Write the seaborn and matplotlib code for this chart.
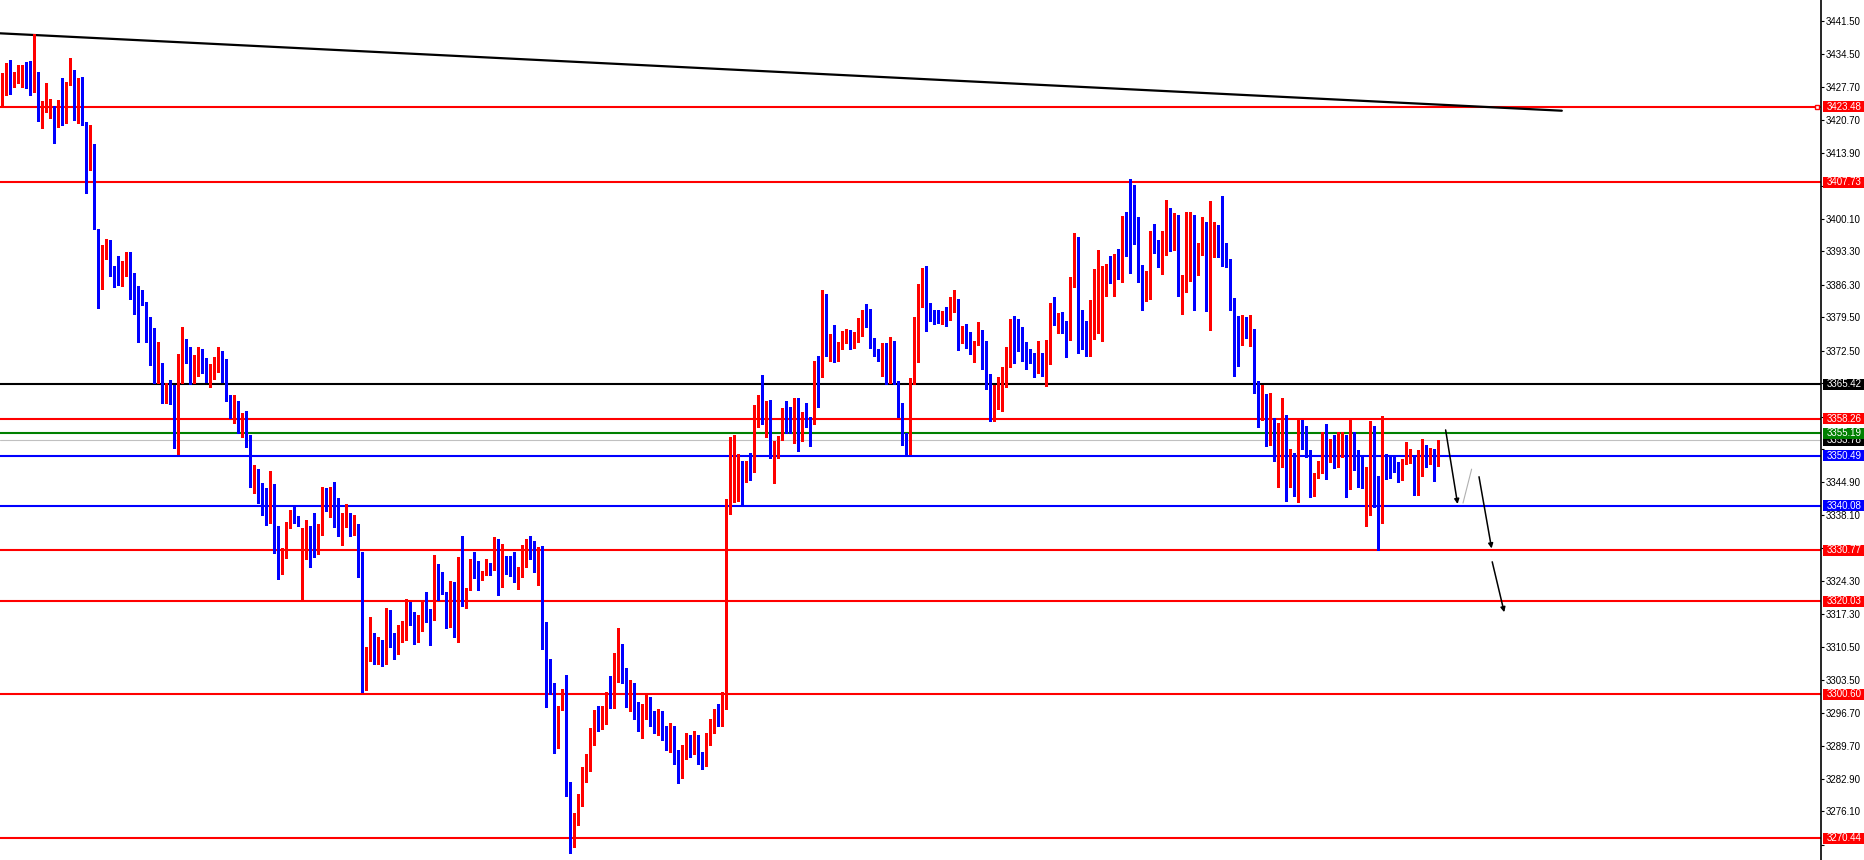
import numpy as np
import pandas as pd
import matplotlib
matplotlib.use("Agg")
import matplotlib.pyplot as plt
from matplotlib.patches import Rectangle
import seaborn as sns

# OHLC, one value per candle (oldest first)
open_ = [
    3426.2, 3426.2, 3432.1, 3429.0, 3429.5, 3431.2, 3432.5, 3427.9, 3427.0, 3428.6,
    3420.9, 3422.7, 3422.7, 3423.2, 3420.1, 3424.9, 3420.4, 3428.2, 3431.0, 3422.5,
    3428.1, 3419.9, 3413.1, 3413.4, 3397.9, 3387.1, 3393.0, 3393.6, 3390.1, 3389.2,
    3386.4, 3389.9, 3391.3, 3387.5, 3383.6, 3383.4, 3382.3, 3379.1, 3375.8, 3367.2,
    3369.3, 3363.2, 3364.1, 3361.8, 3352.3, 3366.4, 3373.5, 3372.3, 3366.7, 3369.7,
    3371.8, 3370.2, 3367.8, 3368.6, 3369.1, 3372.1, 3370.7, 3362.9, 3358.6, 3360.8,
    3358.3, 3359.0, 3353.8, 3345.1, 3345.6, 3342.8, 3340.9, 3340.0, 3343.5, 3331.3,
    3327.5, 3329.4, 3335.5, 3338.5, 3337.4, 3321.0, 3329.0, 3333.3, 3333.0, 3331.6,
    3335.0, 3342.9, 3339.3, 3343.2, 3339.8, 3334.6, 3335.7, 3337.5, 3335.5, 3336.2,
    3328.0, 3302.5, 3309.5, 3312.0, 3308.5, 3311.0, 3308.0, 3316.7, 3312.0, 3310.0,
    3313.5, 3314.5, 3318.7, 3317.6, 3313.0, 3316.1, 3320.0, 3317.0, 3316.3, 3325.9,
    3324.0, 3321.7, 3314.7, 3323.0, 3316.8, 3328.7, 3320.0, 3322.6, 3328.0, 3325.5,
    3324.7, 3326.2, 3327.6, 3327.1, 3329.7, 3323.1, 3329.0, 3328.0, 3326.4, 3324.4,
    3326.5, 3327.3, 3331.8, 3330.6, 3328.1, 3330.6, 3312.8, 3302.7, 3302.0, 3289.8,
    3297.7, 3300.9, 3279.9, 3268.9, 3275.1, 3278.3, 3284.7, 3286.0, 3293.5, 3296.8,
    3294.4, 3297.7, 3299.2, 3298.7, 3304.4, 3309.4, 3304.5, 3299.5, 3302.0, 3297.0,
    3294.5, 3297.0, 3299.0, 3295.5, 3293.5, 3296.0, 3292.0, 3290.0, 3293.0, 3287.5,
    3284.0, 3288.5, 3291.0, 3289.0, 3291.5, 3287.0, 3286.5, 3291.5, 3294.0, 3296.0,
    3295.0, 3299.0, 3340.7, 3341.2, 3345.6, 3348.4, 3347.0, 3348.2, 3347.2, 3356.7,
    3365.2, 3358.7, 3361.8, 3351.4, 3352.1, 3354.0, 3360.1, 3358.6, 3357.1, 3362.4,
    3355.2, 3358.1, 3357.8, 3357.4, 3370.2, 3367.4, 3383.1, 3373.5, 3374.0, 3370.5,
    3373.7, 3375.4, 3375.8, 3373.9, 3374.4, 3377.0, 3379.5, 3378.7, 3373.5, 3371.8,
    3370.7, 3373.9, 3366.0, 3373.5, 3366.0, 3359.3, 3354.0, 3352.0, 3366.0, 3375.0,
    3385.0, 3389.4, 3381.8, 3379.9, 3379.7, 3378.4, 3380.8, 3379.3, 3383.0, 3383.3,
    3375.6, 3376.0, 3374.3, 3372.1, 3374.0, 3374.9, 3373.2, 3365.0, 3358.3, 3363.2,
    3364.8, 3367.0, 3371.2, 3378.9, 3377.5, 3376.0, 3374.3, 3371.6, 3371.4, 3370.0,
    3371.8, 3369.9, 3371.7, 3382.0, 3379.1, 3379.6, 3377.5, 3375.1, 3387.3, 3395.9,
    3377.9, 3376.3, 3372.6, 3377.9, 3380.3, 3384.4, 3387.9, 3390.0, 3388.3, 3392.0,
    3387.8, 3399.6, 3405.1, 3404.6, 3400.4, 3389.5, 3383.0, 3388.0, 3395.4, 3393.9,
    3391.8, 3393.2, 3401.9, 3394.0, 3400.7, 3384.8, 3385.9, 3391.1, 3400.0, 3390.3,
    3394.8, 3397.3, 3380.9, 3395.0, 3398.3, 3399.6, 3394.9, 3391.3, 3382.0, 3377.3,
    3376.6, 3378.1, 3375.4, 3376.7, 3365.5, 3359.9, 3361.3, 3352.8, 3358.1, 3355.2,
    3356.5, 3358.1, 3345.9, 3349.3, 3343.6, 3357.4, 3355.9, 3351.4, 3342.5, 3346.5,
    3348.8, 3354.2, 3349.3, 3352.8, 3349.1, 3354.0, 3354.5, 3344.9, 3355.4, 3347.7,
    3345.3, 3344.4, 3347.2, 3349.6, 3345.4, 3336.9, 3349.6, 3349.1, 3348.8, 3348.6,
    3347.2, 3348.9, 3350.0, 3350.5, 3343.3, 3350.9, 3351.5, 3349.3, 3351.5, 3348.9,
]
high = [
    3430.6, 3432.7, 3433.3, 3430.9, 3432.3, 3432.3, 3432.8, 3433.2, 3438.8, 3430.7,
    3424.7, 3428.4, 3425.1, 3423.6, 3424.9, 3429.5, 3428.8, 3433.7, 3431.2, 3429.5,
    3429.8, 3420.4, 3419.7, 3415.7, 3398.0, 3394.6, 3395.8, 3395.6, 3390.2, 3392.3,
    3391.3, 3393.2, 3393.2, 3388.8, 3386.0, 3385.2, 3382.7, 3379.6, 3377.2, 3374.4,
    3370.0, 3365.7, 3366.4, 3365.3, 3371.8, 3377.4, 3374.9, 3373.3, 3371.6, 3373.2,
    3372.8, 3370.9, 3369.7, 3371.1, 3373.2, 3372.5, 3370.8, 3363.2, 3363.2, 3362.0,
    3359.5, 3359.9, 3354.8, 3348.6, 3347.7, 3344.7, 3343.7, 3347.3, 3344.6, 3335.7,
    3331.1, 3336.6, 3339.1, 3339.9, 3337.8, 3335.3, 3337.1, 3335.8, 3338.6, 3336.2,
    3343.9, 3343.7, 3343.9, 3345.1, 3341.6, 3338.6, 3340.4, 3338.6, 3338.1, 3336.3,
    3330.4, 3310.5, 3316.8, 3313.5, 3312.5, 3312.0, 3318.6, 3318.2, 3313.5, 3315.0,
    3316.0, 3320.5, 3319.8, 3317.8, 3317.2, 3320.2, 3321.9, 3318.4, 3329.7, 3327.9,
    3326.2, 3322.0, 3324.3, 3324.0, 3329.4, 3333.7, 3322.9, 3328.8, 3330.4, 3328.5,
    3326.4, 3328.8, 3328.1, 3333.4, 3333.1, 3332.0, 3329.5, 3329.5, 3330.4, 3327.3,
    3331.8, 3333.0, 3333.7, 3332.7, 3331.3, 3331.6, 3315.8, 3308.0, 3302.9, 3298.2,
    3301.6, 3304.6, 3282.3, 3275.7, 3279.7, 3285.4, 3288.0, 3293.6, 3297.2, 3298.1,
    3298.1, 3301.1, 3304.4, 3309.3, 3314.4, 3311.0, 3306.0, 3303.5, 3303.0, 3299.0,
    3298.5, 3300.5, 3300.0, 3297.0, 3297.5, 3297.0, 3294.0, 3294.5, 3294.0, 3289.0,
    3290.0, 3292.5, 3292.0, 3293.0, 3292.0, 3288.5, 3292.5, 3295.5, 3297.5, 3298.5,
    3301.0, 3341.5, 3354.5, 3354.8, 3350.9, 3349.3, 3349.3, 3351.1, 3361.1, 3363.2,
    3367.4, 3361.9, 3362.2, 3353.5, 3354.6, 3360.4, 3362.0, 3360.7, 3362.5, 3362.5,
    3359.7, 3361.6, 3358.7, 3370.4, 3371.4, 3385.2, 3384.4, 3376.0, 3377.9, 3374.2,
    3376.7, 3377.0, 3376.8, 3376.3, 3379.3, 3381.0, 3382.3, 3381.2, 3375.1, 3372.8,
    3374.0, 3374.0, 3375.3, 3374.6, 3366.2, 3361.5, 3355.2, 3366.7, 3379.5, 3386.4,
    3389.7, 3390.2, 3382.4, 3381.0, 3381.1, 3380.7, 3381.6, 3383.8, 3385.2, 3383.4,
    3377.7, 3378.1, 3376.3, 3374.6, 3378.5, 3376.8, 3374.6, 3367.6, 3365.3, 3366.9,
    3369.0, 3373.2, 3379.2, 3379.8, 3379.1, 3377.4, 3374.4, 3372.8, 3371.9, 3374.6,
    3371.9, 3374.7, 3382.4, 3383.8, 3380.3, 3380.6, 3378.6, 3387.8, 3397.2, 3396.3,
    3381.0, 3378.7, 3383.1, 3389.6, 3393.6, 3390.2, 3390.6, 3392.3, 3392.7, 3393.8,
    3400.7, 3401.6, 3408.4, 3407.2, 3400.5, 3390.4, 3389.2, 3397.6, 3399.0, 3395.6,
    3397.6, 3404.0, 3402.4, 3401.4, 3400.9, 3388.3, 3401.6, 3401.6, 3400.9, 3395.0,
    3400.4, 3399.5, 3403.8, 3399.5, 3398.8, 3404.9, 3395.1, 3391.6, 3383.6, 3379.7,
    3380.0, 3379.5, 3380.0, 3377.0, 3366.2, 3365.3, 3363.4, 3363.6, 3358.5, 3357.3,
    3362.5, 3359.0, 3351.9, 3351.1, 3358.5, 3358.0, 3356.7, 3351.7, 3346.9, 3349.3,
    3355.5, 3357.1, 3354.0, 3354.9, 3355.5, 3355.5, 3354.9, 3358.1, 3355.5, 3351.6,
    3350.4, 3348.1, 3357.8, 3356.7, 3346.3, 3358.8, 3350.9, 3350.4, 3350.4, 3349.1,
    3349.8, 3353.4, 3351.9, 3350.6, 3351.7, 3354.0, 3352.8, 3352.1, 3351.9, 3353.7,
]
low = [
    3423.9, 3426.0, 3426.3, 3427.6, 3428.4, 3427.6, 3427.4, 3426.0, 3426.7, 3420.5,
    3419.0, 3422.5, 3421.1, 3416.0, 3419.2, 3419.7, 3420.1, 3428.1, 3420.8, 3420.1,
    3419.7, 3405.4, 3410.3, 3397.9, 3381.4, 3385.3, 3391.6, 3388.1, 3385.8, 3386.2,
    3386.0, 3388.1, 3383.4, 3380.2, 3374.4, 3382.0, 3374.2, 3369.5, 3365.8, 3365.8,
    3361.6, 3361.6, 3361.3, 3352.1, 3350.9, 3365.7, 3370.0, 3365.5, 3365.8, 3367.2,
    3367.9, 3366.0, 3364.8, 3366.5, 3368.1, 3366.0, 3362.0, 3358.3, 3357.4, 3355.2,
    3354.4, 3352.3, 3344.0, 3342.8, 3340.6, 3338.1, 3336.0, 3336.5, 3330.2, 3324.7,
    3325.8, 3329.1, 3335.3, 3336.5, 3335.7, 3320.0, 3328.8, 3327.3, 3329.4, 3330.0,
    3333.9, 3339.0, 3337.6, 3335.5, 3333.6, 3331.8, 3335.5, 3333.7, 3333.9, 3325.2,
    3301.0, 3301.5, 3307.5, 3307.0, 3307.0, 3306.5, 3307.0, 3310.5, 3308.0, 3309.0,
    3311.5, 3312.0, 3315.0, 3311.0, 3311.5, 3313.9, 3315.8, 3310.8, 3316.1, 3320.3,
    3321.6, 3314.4, 3314.6, 3312.5, 3311.6, 3319.1, 3318.7, 3322.4, 3325.0, 3322.3,
    3324.4, 3325.5, 3325.5, 3326.6, 3321.4, 3323.1, 3325.8, 3325.3, 3324.1, 3322.6,
    3325.2, 3327.2, 3328.8, 3326.2, 3323.5, 3310.1, 3297.9, 3300.6, 3288.2, 3289.3,
    3297.2, 3279.2, 3267.4, 3268.6, 3273.3, 3277.2, 3282.3, 3284.6, 3290.0, 3292.9,
    3293.3, 3294.3, 3297.7, 3297.7, 3303.2, 3303.0, 3298.0, 3297.0, 3295.5, 3293.0,
    3291.5, 3295.5, 3294.0, 3292.5, 3292.0, 3291.0, 3289.0, 3288.5, 3286.0, 3282.0,
    3283.0, 3287.0, 3287.5, 3288.0, 3286.0, 3285.0, 3285.5, 3290.0, 3292.5, 3294.0,
    3294.0, 3297.5, 3338.3, 3340.9, 3341.1, 3340.0, 3345.1, 3345.4, 3347.1, 3356.5,
    3357.1, 3354.4, 3350.0, 3344.7, 3350.0, 3353.8, 3355.2, 3355.2, 3353.2, 3351.4,
    3353.6, 3356.5, 3352.5, 3357.1, 3360.8, 3366.9, 3371.4, 3370.4, 3370.2, 3370.4,
    3372.8, 3374.0, 3372.8, 3373.0, 3374.2, 3375.6, 3377.5, 3373.0, 3371.4, 3370.4,
    3367.2, 3365.5, 3365.8, 3365.5, 3358.7, 3352.8, 3350.6, 3350.8, 3365.5, 3370.2,
    3381.7, 3376.7, 3378.6, 3378.1, 3378.2, 3378.1, 3377.7, 3378.8, 3380.6, 3372.6,
    3374.0, 3373.0, 3371.8, 3370.2, 3373.7, 3368.6, 3364.4, 3357.8, 3357.8, 3360.2,
    3359.9, 3364.8, 3369.1, 3369.9, 3372.5, 3370.4, 3368.6, 3370.0, 3366.9, 3367.9,
    3367.2, 3365.0, 3369.7, 3377.9, 3376.2, 3376.2, 3371.2, 3374.7, 3385.9, 3372.1,
    3372.8, 3371.4, 3371.4, 3374.9, 3376.1, 3374.6, 3383.9, 3386.7, 3383.9, 3387.4,
    3386.9, 3392.2, 3388.7, 3394.8, 3386.9, 3380.9, 3382.9, 3383.2, 3393.0, 3389.9,
    3388.5, 3392.5, 3393.4, 3393.6, 3383.9, 3380.2, 3384.8, 3387.1, 3380.9, 3388.3,
    3392.5, 3380.8, 3376.8, 3392.0, 3392.0, 3390.2, 3389.9, 3381.0, 3367.2, 3369.3,
    3373.7, 3375.1, 3373.5, 3363.6, 3356.6, 3358.0, 3352.5, 3352.7, 3349.5, 3344.0,
    3348.1, 3341.1, 3343.9, 3342.1, 3340.9, 3351.9, 3350.2, 3341.8, 3342.1, 3345.8,
    3346.8, 3345.6, 3349.2, 3347.9, 3348.2, 3350.2, 3341.9, 3343.5, 3347.6, 3344.0,
    3343.7, 3335.8, 3338.1, 3339.7, 3330.8, 3336.5, 3345.6, 3345.8, 3347.2, 3345.1,
    3345.4, 3348.8, 3348.9, 3342.3, 3342.3, 3346.3, 3348.1, 3348.8, 3345.3, 3348.4,
]
close = [
    3426.6, 3432.1, 3428.9, 3429.6, 3431.4, 3431.6, 3427.7, 3427.0, 3428.6, 3420.8,
    3422.9, 3423.0, 3423.2, 3420.2, 3424.9, 3420.2, 3428.2, 3430.9, 3422.5, 3428.1,
    3419.7, 3413.1, 3413.5, 3397.9, 3387.1, 3393.2, 3393.6, 3389.9, 3386.7, 3386.4,
    3389.9, 3391.3, 3387.4, 3383.3, 3383.3, 3382.0, 3378.9, 3375.6, 3367.2, 3369.3,
    3363.2, 3364.1, 3361.6, 3352.3, 3366.5, 3373.5, 3372.1, 3366.7, 3369.7, 3371.8,
    3370.0, 3368.1, 3368.6, 3369.3, 3372.1, 3370.5, 3362.6, 3358.6, 3360.8, 3358.3,
    3359.0, 3353.7, 3345.1, 3345.6, 3342.7, 3340.7, 3340.0, 3343.5, 3331.5, 3327.3,
    3329.5, 3335.5, 3338.5, 3337.3, 3336.0, 3329.4, 3333.2, 3333.0, 3331.6, 3335.3,
    3342.9, 3339.3, 3343.2, 3339.5, 3334.6, 3335.8, 3337.5, 3335.5, 3336.2, 3327.8,
    3302.5, 3309.5, 3312.0, 3308.5, 3311.0, 3308.0, 3316.7, 3312.0, 3310.0, 3313.5,
    3314.5, 3318.7, 3317.6, 3313.0, 3316.0, 3320.0, 3316.8, 3316.6, 3325.9, 3323.9,
    3321.7, 3314.6, 3323.0, 3316.8, 3328.7, 3320.0, 3322.8, 3328.0, 3325.4, 3324.5,
    3326.2, 3327.6, 3327.1, 3329.7, 3323.1, 3329.0, 3327.9, 3326.5, 3324.5, 3326.6,
    3327.5, 3331.8, 3330.6, 3328.1, 3330.8, 3312.6, 3302.5, 3301.6, 3289.8, 3297.9,
    3301.3, 3279.9, 3268.9, 3274.5, 3278.5, 3284.9, 3286.1, 3293.5, 3296.8, 3294.5,
    3297.7, 3299.2, 3298.7, 3304.4, 3309.4, 3304.5, 3299.5, 3302.0, 3297.0, 3294.5,
    3297.0, 3299.0, 3295.5, 3293.5, 3296.0, 3292.0, 3290.0, 3293.0, 3287.5, 3284.0,
    3288.5, 3291.0, 3289.0, 3291.5, 3287.0, 3286.5, 3291.5, 3294.0, 3296.0, 3295.0,
    3299.0, 3341.0, 3341.7, 3345.8, 3348.4, 3347.0, 3347.9, 3347.2, 3356.9, 3362.9,
    3358.8, 3361.8, 3351.4, 3352.1, 3354.2, 3360.1, 3358.6, 3357.1, 3362.4, 3355.2,
    3358.0, 3357.6, 3357.4, 3370.2, 3367.4, 3383.1, 3373.7, 3374.2, 3370.4, 3373.9,
    3375.6, 3375.8, 3373.0, 3374.6, 3377.2, 3379.5, 3378.6, 3373.3, 3371.6, 3370.7,
    3373.9, 3366.0, 3373.5, 3365.7, 3359.0, 3354.0, 3352.0, 3366.2, 3375.3, 3385.2,
    3389.4, 3381.7, 3379.7, 3379.6, 3378.8, 3380.6, 3379.4, 3383.1, 3383.3, 3375.6,
    3376.0, 3374.2, 3372.1, 3374.2, 3374.9, 3373.2, 3364.8, 3358.3, 3363.4, 3365.0,
    3367.2, 3371.4, 3379.1, 3377.0, 3375.9, 3374.2, 3371.4, 3371.2, 3369.9, 3371.8,
    3369.9, 3371.9, 3382.0, 3379.1, 3379.6, 3377.3, 3375.2, 3387.5, 3395.9, 3377.7,
    3376.3, 3372.6, 3378.1, 3380.5, 3384.7, 3388.0, 3390.0, 3388.3, 3392.0, 3387.8,
    3399.6, 3395.3, 3404.5, 3400.3, 3389.4, 3383.0, 3388.1, 3395.4, 3393.9, 3391.8,
    3393.3, 3401.9, 3393.9, 3400.7, 3384.8, 3386.0, 3391.3, 3400.0, 3390.3, 3394.9,
    3397.3, 3380.9, 3395.2, 3398.3, 3396.7, 3394.8, 3391.1, 3381.4, 3377.0, 3376.6,
    3378.1, 3375.3, 3376.6, 3365.5, 3359.9, 3361.3, 3352.8, 3358.1, 3355.2, 3356.6,
    3358.1, 3345.9, 3349.3, 3343.6, 3357.4, 3355.7, 3351.1, 3342.3, 3346.6, 3348.8,
    3354.2, 3349.3, 3352.8, 3349.1, 3354.2, 3354.5, 3344.9, 3355.1, 3347.7, 3345.1,
    3344.4, 3347.4, 3349.6, 3339.7, 3336.9, 3349.6, 3349.1, 3348.6, 3348.4, 3347.2,
    3347.7, 3350.3, 3350.3, 3343.2, 3351.5, 3351.5, 3349.3, 3351.5, 3348.9, 3353.7,
]

# horizontal levels and their colours
level_prices = [3423.48, 3407.73, 3365.42, 3358.26, 3355.19, 3350.49, 3340.08,
                3330.77, 3320.03, 3300.60, 3270.44]
level_colors = ["#ff0000", "#ff0000", "#000000", "#ff0000", "#008000", "#0000ff",
                "#0000ff", "#ff0000", "#ff0000", "#ff0000", "#ff0000"]
bid_price = 3353.78

# right axis tick values; labels hidden behind a price box stay blank
tick_values = [3441.50, 3434.50, 3427.70, 3420.70, 3413.90, 3406.90, 3400.10,
               3393.30, 3386.30, 3379.50, 3372.50, 3365.70, 3358.70, 3351.90,
               3344.90, 3338.10, 3331.10, 3324.30, 3317.30, 3310.50, 3303.50,
               3296.70, 3289.70, 3282.90, 3276.10, 3269.10]
hidden_ticks = [3365.70, 3358.70, 3331.10, 3406.90, 3351.90, 3269.10]

# trend line anchors (bar index, price)
trend_x = [-0.6, 389.9]
trend_y = [3438.9, 3422.7]

# hand drawn arrows (bar index, price): start, end
arrows = [((360.85, 3355.9), (363.85, 3340.4)),
          ((369.2, 3346.1), (372.35, 3331.1)),
          ((372.5, 3328.3), (375.5, 3317.75))]
faint_x = [365.2, 367.35]
faint_y = [3340.6, 3347.7]

df = pd.DataFrame({"open": open_, "high": high, "low": low, "close": close})
df["idx"] = np.arange(len(df))
df["color"] = np.where(df["close"] >= df["open"], "#ff0000", "#0000ff")
df["body_lo"] = df[["open", "close"]].min(axis=1)
df["body_h"] = (df["close"] - df["open"]).abs().clip(lower=0.22)

sns.set_style("white")
plt.rcParams["font.family"] = ["Liberation Sans", "DejaVu Sans"]

W, H = 1865, 860
AX_W = 1821
fig = plt.figure(figsize=(W / 100, H / 100), dpi=100)
ax = fig.add_axes([0, 0, AX_W / W, 1])

ymin, ymax = 3265.9, 3445.87
ax.set_xlim(-0.575, 454.7)
ax.set_ylim(ymin, ymax)
px_per_price = H / (ymax - ymin)

# levels
for p, c in zip(level_prices, level_colors):
    ax.axhline(p, color=c, lw=1.5, zorder=1)
ax.axhline(bid_price, color="#c0c0c0", lw=0.8, zorder=1)

# trend line
sns.lineplot(x=trend_x, y=trend_y, color="black", lw=1.6, ax=ax, zorder=2)

# candles
ax.vlines(df["idx"], df["low"], df["high"], colors=df["color"], lw=0.8,
          zorder=3, antialiased=False)
ax.bar(df["idx"], df["body_h"], bottom=df["body_lo"], width=0.8,
       color=df["color"], linewidth=0, zorder=4, antialiased=False)

# arrows
for (x0, y0), (x1, y1) in arrows:
    ax.annotate("", xy=(x1, y1), xytext=(x0, y0),
                arrowprops=dict(arrowstyle="-|>", color="black", lw=1.1,
                                mutation_scale=7, shrinkA=0, shrinkB=0),
                zorder=5)
ax.plot(faint_x, faint_y, color="#b0b0b0", lw=0.8, zorder=5)

# little anchor square on the top level
ax.plot([453.8], [level_prices[0]], marker="s", ms=3.2, mfc="white",
        mec="#ff0000", mew=1, zorder=6)

# right axis
for s in ["left", "top", "bottom"]:
    ax.spines[s].set_visible(False)
ax.spines["right"].set_color("black")
ax.spines["right"].set_linewidth(1.2)
ax.set_xticks([])
ax.yaxis.tick_right()
ax.set_yticks(tick_values)
ax.set_yticklabels(["" if v in hidden_ticks else f"{v:.2f}" for v in tick_values])
ax.tick_params(axis="y", direction="out", length=2.2, width=0.8, pad=1.5,
               labelsize=7.0, colors="black")

# price boxes on the axis (green drawn over the bid box, as in the reference)
trans = ax.get_yaxis_transform()
box_x0 = 1823 / AX_W
box_w = 42 / AX_W
box_half = 5.5 / px_per_price
boxes = list(zip(level_prices, level_colors))
boxes.insert(4, (bid_price, "#000000"))
for z, (p, c) in enumerate(boxes):
    ax.add_patch(Rectangle((box_x0, p - box_half), box_w, 2 * box_half,
                           transform=trans, facecolor=c, edgecolor="none",
                           clip_on=False, zorder=10 + 2 * z))
    ax.text(box_x0 + box_w / 2, p, f"{p:.2f}", transform=trans, ha="center",
            va="center", fontsize=7.0, color="white", clip_on=False,
            zorder=11 + 2 * z)

fig.savefig("out.png", dpi=100, facecolor="white")
